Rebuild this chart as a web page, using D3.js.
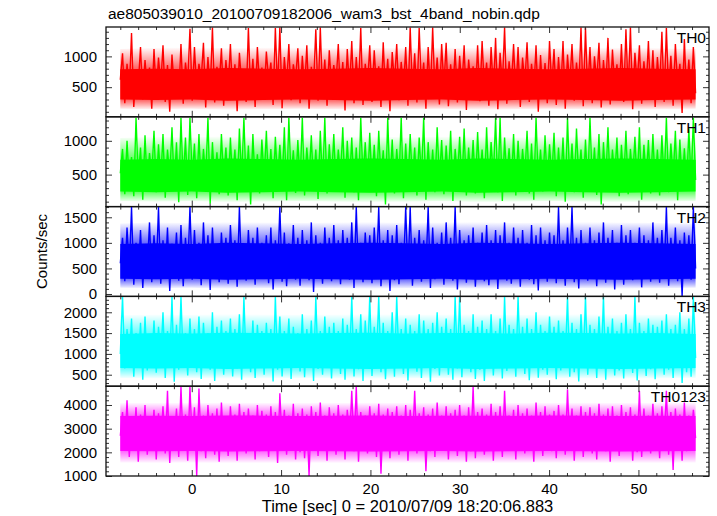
<!DOCTYPE html>
<html><head><meta charset="utf-8">
<script src="https://cdn.jsdelivr.net/npm/d3@7"></script>
<style>
body{margin:0;background:#fff}
svg{display:block}
text{font-family:"Liberation Sans",Arial,Helvetica,sans-serif;fill:#000}
</style>
</head><body><svg id="c" width="717" height="516"></svg>
<script>
// ---------------- data ----------------
const title = "ae805039010_20100709182006_wam3_bst_4band_nobin.qdp";
const xLabel = "Time [sec] 0 = 2010/07/09 18:20:06.883";
const yLabel = "Counts/sec";
const bandNames = ["TH0", "TH1", "TH2", "TH3", "TH0123"];
const xTickValues = [0, 10, 20, 30, 40, 50];
const xMinorStep = 2;
// light-curve sample grid: 257 samples from t = -8.0 s to t = 56.4 s
const sampleTimes = d3.range(257).map(i => -8 + i * 64.4 / 256);
const coreTimes = [-8, -4, 0, 4, 8, 12, 16, 20, 24, 28, 32, 36, 40, 44, 48, 52, 56.4];

const th0 = [
  620,1050,240,880,410,1380,180,760,530,1150,300,940,460,820,150,1120,
  350,980,520,1180,260,860,100,1030,470,790,330,1200,230,900,560,1450,
  280,1150,440,880,610,1220,170,990,380,1470,250,830,520,1130,200,940,
  450,1200,310,870,110,1060,540,780,260,1460,390,960,180,1150,480,820,
  330,1080,590,900,210,1460,420,1470,160,990,500,1200,290,870,610,1130,
  240,1010,430,1180,150,830,520,1440,280,1470,360,950,200,1100,470,860,
  550,1200,300,910,120,1120,430,1250,240,990,390,1460,210,880,500,1180,
  260,1100,470,840,180,1230,350,960,110,1070,540,1200,290,910,420,1150,
  200,1470,380,1050,250,1460,470,900,150,1150,330,1470,410,980,220,1200,
  480,1220,190,870,360,1120,250,1010,440,1180,130,950,520,840,300,1180,
  270,1250,460,900,200,1150,380,1300,140,1060,500,1470,230,920,450,1200,
  310,1150,180,980,530,1230,260,880,410,1180,100,1020,340,890,240,1250,
  460,1120,210,990,370,1250,150,1030,500,1200,280,900,420,1470,190,1460,
  350,1150,240,1000,560,1220,170,940,400,1300,220,1110,480,870,300,1200,
  260,1440,390,1470,140,1060,510,1180,230,920,420,1250,300,1100,180,990,
  450,1400,260,1460,370,1010,200,1200,520,880,80,1280,310,950,240,1150,
  400];
const th0CoreHi = [790,800,790,810,800,790,800,810,800,790,810,800,790,800,810,800,790];
const th0CoreLo = [300,290,300,280,290,300,290,280,290,300,280,290,300,290,280,290,300];
const th0HaloHi = [1120,1140,1150,1130,1140,1150,1130,1140,1130,1150,1140,1130,1140,1150,1140,1130,1120];
const th0HaloLo = [150,140,150,130,140,150,140,130,140,150,130,140,150,140,130,140,150];

const th1 = [
  520,880,210,1000,350,760,180,1340,420,900,130,1080,300,820,460,1150,
  240,950,380,1100,160,870,450,1200,270,980,90,1340,330,1050,200,1340,
  430,960,150,1100,260,880,400,1340,70,980,320,830,210,1100,380,900,
  190,1050,350,870,120,1180,410,1340,280,930,60,1100,330,800,220,1020,
  400,1150,250,880,150,1060,370,940,300,1200,120,1340,420,860,230,1010,
  350,1340,190,900,410,1080,260,870,140,1150,310,1340,220,950,380,1100,
  280,870,430,1200,160,1000,350,1050,240,900,120,1340,400,980,270,1120,
  330,940,180,1150,410,860,60,1340,290,1020,220,880,380,1340,150,960,
  260,1100,350,900,190,1050,420,1340,130,980,300,870,240,1200,390,1010,
  210,930,340,1150,110,880,400,1060,270,1180,190,900,350,1010,220,1130,
  360,870,150,1200,300,980,420,1340,240,1340,110,1050,380,890,260,1100,
  190,1000,330,880,440,1150,220,960,130,1340,370,870,250,1080,310,950,
  400,1120,180,900,300,1050,100,1340,350,960,240,1180,410,870,160,1020,
  290,1340,370,900,200,1100,60,980,330,1200,250,870,420,1050,180,940,
  340,1150,210,880,400,1060,270,1200,130,940,380,1010,220,1100,300,870,
  190,1080,350,1340,240,960,410,1150,120,1020,300,890,260,1180,350,1340,
  420];
const th1CoreHi = [720,730,720,740,730,720,730,740,730,720,740,730,720,730,740,730,720];
const th1CoreLo = [250,240,250,230,240,250,240,230,240,250,230,240,250,240,230,240,250];
const th1HaloHi = [1040,1060,1050,1070,1060,1050,1060,1070,1050,1060,1070,1050,1060,1070,1060,1050,1040];
const th1HaloLo = [110,100,110,90,100,110,100,90,100,110,90,100,110,100,90,100,110];

const th2 = [
  600,1100,250,1300,420,1700,180,1000,350,1250,120,950,460,1400,230,1150,
  380,1700,200,1050,300,1300,60,980,440,1200,260,1350,150,1100,400,1700,
  280,1250,350,1000,170,1400,420,1150,80,1300,310,950,230,1200,380,1100,
  200,1350,450,1050,140,1700,320,980,260,1250,400,1100,180,1300,350,1000,
  420,1150,210,1300,90,1050,360,1700,240,1200,150,990,430,1350,280,1100,
  160,1250,380,1050,270,1400,40,1150,330,1000,200,1300,410,1100,250,1350,
  350,1050,190,1250,420,1100,280,1400,120,1700,300,1000,230,1200,380,1150,
  210,1300,400,1700,150,1050,330,1250,60,1150,270,1350,190,1000,420,1700,
  300,1700,160,1100,380,1250,240,1050,420,1700,120,1300,290,1000,350,1200,
  180,1400,330,1100,260,1700,90,1250,400,1050,220,1150,360,1300,140,1000,
  410,1200,250,1350,170,1050,320,1250,100,1150,390,1400,260,1000,200,1300,
  350,1100,140,1250,420,1000,280,1350,190,1150,70,1300,330,1050,240,1200,
  400,1150,210,1700,300,1050,160,1300,370,1700,230,1100,110,1250,340,1000,
  260,1300,390,1050,150,1200,310,1400,220,1100,420,1250,90,1000,300,1350,
  180,1150,350,1250,270,1000,410,1300,130,1150,320,1050,240,1400,380,1100,
  220,1250,300,1700,160,1100,390,1300,250,1050,-40,1200,330,1150,280,1700,
  500];
const th2CoreHi = [980,990,980,1000,990,980,990,1000,990,980,1000,990,980,990,1000,990,980];
const th2CoreLo = [300,290,300,280,290,300,290,280,290,300,280,290,300,290,280,290,300];
const th2HaloHi = [1380,1400,1390,1410,1400,1390,1400,1410,1390,1400,1410,1390,1400,1410,1400,1390,1380];
const th2HaloLo = [120,110,120,100,110,120,110,100,110,120,100,110,120,110,100,110,120];

const th3 = [
  1000,2380,650,1600,820,1850,450,1500,700,1750,380,1900,600,1450,760,1800,
  550,1650,840,2000,420,1550,700,2380,330,1700,620,2380,780,1500,480,1850,
  700,1600,560,1900,400,1750,820,1500,620,2000,350,1650,740,1800,500,1550,
  780,1850,460,1600,650,1950,380,2380,700,1500,560,1800,420,1700,810,1550,
  500,1750,720,1600,340,2380,620,1900,460,1550,780,1850,400,1650,690,1500,
  580,1950,440,1600,750,1800,350,2380,640,1550,500,1900,720,1650,410,1750,
  690,1550,520,1850,380,1700,760,2380,460,1600,630,1950,350,1800,700,2380,
  470,1650,800,2380,560,1750,390,1550,680,2000,450,2380,740,1600,520,1850,
  360,1700,690,1550,570,1950,420,1800,760,1600,330,1750,640,2000,480,1650,
  710,1850,500,1600,380,2380,650,2380,440,1700,780,1550,560,1950,400,1650,
  620,1800,350,1600,720,1950,480,1550,660,1850,410,2380,590,1700,760,1600,
  450,2380,680,1650,520,1850,370,1600,740,2000,430,1700,620,1550,500,1900,
  700,1650,390,1800,600,1550,780,2380,450,1750,560,1600,340,1950,690,2380,
  500,1700,720,1600,420,1900,650,2380,380,1650,760,1850,480,1550,600,1750,
  410,1950,690,1600,540,2380,360,1750,720,1550,470,1850,630,1700,390,1650,
  740,1800,500,1950,620,1600,420,1700,680,2000,300,1600,560,1850,450,2380,
  900];
const th3CoreHi = [1480,1500,1490,1510,1500,1490,1500,1510,1490,1500,1500,1490,1510,1500,1490,1500,1480];
const th3CoreLo = [660,650,660,640,650,660,650,640,650,660,640,650,660,650,640,650,660];
const th3HaloHi = [1930,1950,1940,1960,1950,1940,1950,1960,1940,1950,1960,1940,1950,1960,1950,1940,1930];
const th3HaloLo = [420,410,420,400,410,420,410,400,410,420,400,410,420,410,400,410,420];

const th0123 = [
  2700,3700,2100,4200,1800,3500,2300,3900,1600,3600,2200,4000,1900,3400,2400,3800,
  1700,3650,2250,3950,1950,4600,1550,3500,2350,3850,1800,4790,2100,3600,1650,4790,
  2300,3900,1000,4700,2050,3550,1750,4000,2400,3650,1900,3850,1600,4100,2200,3500,
  1850,3950,2350,3600,1650,4050,2150,3700,1950,3850,2300,3550,1700,4000,2050,3750,
  2250,3600,1800,3950,2100,3700,1550,4500,2350,3800,1900,3550,2200,4050,1700,3650,
  2000,3850,1750,3600,1000,3950,2300,3700,1850,4100,2150,3550,1650,3900,2400,3650,
  1900,4000,2200,3600,1700,3800,2350,4600,2050,4790,1600,3700,2250,3550,1950,3950,
  2300,3650,1800,4050,1100,3600,2150,3850,1750,3700,2400,3950,1900,3550,2100,4000,
  1650,3800,2250,4600,1950,3650,2350,3900,1200,3600,2050,3850,1800,4100,2300,3550,
  2100,3950,1700,3650,2400,3800,1850,4000,2200,3550,1600,3900,2050,4790,1750,3700,
  2350,3850,1900,3600,2150,4050,1650,3700,2300,3950,1800,4600,2100,3550,2400,3800,
  1700,4000,2250,3650,1950,3850,2100,3550,1600,4100,2350,3700,1850,3950,2200,3600,
  2050,3750,1750,4000,2300,3600,1900,4650,2150,3850,1650,3550,2400,3950,1800,3700,
  2250,3900,1950,3650,1700,4050,2300,3600,2050,3850,1600,3950,2200,3550,1850,4000,
  2100,3700,2350,3900,1650,3600,2000,4600,1800,3850,2250,3550,1950,4050,2150,3650,
  1750,3950,2300,4600,1900,3700,1250,3850,2200,3600,1650,4100,2050,3550,2350,3800,
  2600];
const th0123CoreHi = [3530,3550,3540,3560,3550,3540,3550,3560,3540,3550,3550,3540,3560,3550,3540,3550,3530];
const th0123CoreLo = [2060,2050,2060,2040,2050,2060,2050,2040,2050,2060,2040,2050,2060,2050,2040,2050,2060];
const th0123HaloHi = [4080,4100,4090,4110,4100,4090,4100,4110,4090,4100,4110,4090,4100,4110,4100,4090,4080];
const th0123HaloLo = [1560,1550,1560,1540,1550,1560,1550,1540,1550,1560,1540,1550,1560,1550,1540,1550,1560];

const yTickValues = [[500, 1000], [500, 1000], [0, 500, 1000, 1500], [500, 1000, 1500, 2000], [1000, 2000, 3000, 4000]];
const yMinorSteps = [100, 100, 100, 100, 200];
const yDomains = [[19, 1477], [27, 1355], [-47, 1709], [224, 2382], [1000, 4794]];

// ---------------- layout / style ----------------
const colors = ["#ff0000", "#00ff00", "#0000ff", "#00ffff", "#ff00ff"];
const panels = [
  {v: th0, cHi: th0CoreHi, cLo: th0CoreLo, hHi: th0HaloHi, hLo: th0HaloLo},
  {v: th1, cHi: th1CoreHi, cLo: th1CoreLo, hHi: th1HaloHi, hLo: th1HaloLo},
  {v: th2, cHi: th2CoreHi, cLo: th2CoreLo, hHi: th2HaloHi, hLo: th2HaloLo},
  {v: th3, cHi: th3CoreHi, cLo: th3CoreLo, hHi: th3HaloHi, hLo: th3HaloLo},
  {v: th0123, cHi: th0123CoreHi, cLo: th0123CoreLo, hHi: th0123HaloHi, hLo: th0123HaloLo}
];
const L = 106, R = 709, T = 27, B = 476;
const ph = (B - T) / panels.length;
const svg = d3.select("#c");
const defs = svg.append("defs");
const x = d3.scaleLinear().domain([-9.6, 57.9]).range([L, R]);
const xMinor = d3.range(-8, 58, xMinorStep).filter(v => !xTickValues.includes(v));

svg.append("text").attr("x", 108).attr("y", 19).attr("font-size", 15.5).text(title);

panels.forEach((p, k) => {
  const top = T + k * ph, bot = top + ph;
  const y = d3.scaleLinear().domain(yDomains[k]).range([bot, top]);
  const g = svg.append("g");
  const cid = "clip" + k;
  defs.append("clipPath").attr("id", cid).append("rect")
    .attr("x", L).attr("y", top).attr("width", R - L).attr("height", ph);
  // fading density gradient for the halo of overlapping spikes
  const yh = y(d3.max(p.hHi)), yl = y(d3.min(p.hLo));
  const off = v => (y(v) - yh) / (yl - yh);
  const gid = "grad" + k;
  const grad = defs.append("linearGradient").attr("id", gid).attr("gradientUnits", "userSpaceOnUse")
    .attr("x1", 0).attr("x2", 0).attr("y1", yh).attr("y2", yl);
  [[0, 0], [off(d3.mean(p.cHi)), 0.6], [off(d3.mean(p.cLo)), 0.6], [1, 0]].forEach(([o, a]) =>
    grad.append("stop").attr("offset", o).attr("stop-color", colors[k]).attr("stop-opacity", a));
  const dg = g.append("g").attr("clip-path", `url(#${cid})`);
  const halo = d3.area().x((d, i) => x(coreTimes[i])).y0((d, i) => y(p.hLo[i])).y1((d, i) => y(p.hHi[i]));
  dg.append("path").attr("d", halo(coreTimes)).attr("fill", `url(#${gid})`);
  const area = d3.area().x((d, i) => x(coreTimes[i])).y0((d, i) => y(p.cLo[i])).y1((d, i) => y(p.cHi[i]));
  dg.append("path").attr("d", area(coreTimes)).attr("fill", colors[k]);
  const line = d3.line().x((d, i) => x(sampleTimes[i])).y(d => y(d));
  dg.append("path").attr("d", line(p.v)).attr("fill", "none")
    .attr("stroke", colors[k]).attr("stroke-width", 1.4).attr("stroke-linejoin", "miter");

  const ys = yTickValues[k];
  const yMin = d3.range(Math.ceil(yDomains[k][0] / yMinorSteps[k]) * yMinorSteps[k], yDomains[k][1], yMinorSteps[k]).filter(v => !ys.includes(v));
  const axStyle = sel => { sel.select(".domain").remove(); sel.selectAll("line").attr("stroke", "#333").attr("stroke-width", 1); sel.selectAll("text").attr("font-size", 15).attr("font-family", "Liberation Sans, Arial, sans-serif").attr("fill", "#000"); };
  g.append("g").attr("transform", `translate(${L},0)`).call(d3.axisLeft(y).tickValues(ys).tickSizeInner(-6).tickSizeOuter(0).tickPadding(9).tickFormat(d3.format("d"))).call(axStyle);
  g.append("g").attr("transform", `translate(${L},0)`).call(d3.axisLeft(y).tickValues(yMin).tickSizeInner(-3).tickSizeOuter(0).tickFormat("")).call(axStyle);
  g.append("g").attr("transform", `translate(${R},0)`).call(d3.axisRight(y).tickValues(ys).tickSizeInner(-6).tickSizeOuter(0).tickFormat("")).call(axStyle);
  g.append("g").attr("transform", `translate(${R},0)`).call(d3.axisRight(y).tickValues(yMin).tickSizeInner(-3).tickSizeOuter(0).tickFormat("")).call(axStyle);
  const isLast = k === panels.length - 1;
  g.append("g").attr("transform", `translate(0,${bot})`).call(d3.axisBottom(x).tickValues(xTickValues).tickSizeInner(-6).tickSizeOuter(0).tickPadding(7).tickFormat(isLast ? d3.format("d") : "")).call(axStyle);
  g.append("g").attr("transform", `translate(0,${bot})`).call(d3.axisBottom(x).tickValues(xMinor).tickSizeInner(-3).tickSizeOuter(0).tickFormat("")).call(axStyle);
  g.append("g").attr("transform", `translate(0,${top})`).call(d3.axisTop(x).tickValues(xTickValues).tickSizeInner(-6).tickSizeOuter(0).tickFormat("")).call(axStyle);
  g.append("g").attr("transform", `translate(0,${top})`).call(d3.axisTop(x).tickValues(xMinor).tickSizeInner(-3).tickSizeOuter(0).tickFormat("")).call(axStyle);
  g.append("rect").attr("x", L).attr("y", top).attr("width", R - L).attr("height", ph)
    .attr("fill", "none").attr("stroke", "#111").attr("stroke-width", 1.3);
  g.append("text").attr("x", 706).attr("y", top + 16).attr("text-anchor", "end").attr("font-size", 15.5).text(bandNames[k]);
});

svg.append("text").attr("transform", `translate(47,${(T + B) / 2}) rotate(-90)`)
  .attr("text-anchor", "middle").attr("font-size", 15).text(yLabel);
svg.append("text").attr("x", (L + R) / 2).attr("y", 512).attr("text-anchor", "middle")
  .attr("font-size", 16.5).text(xLabel);
</script>
</body></html>
